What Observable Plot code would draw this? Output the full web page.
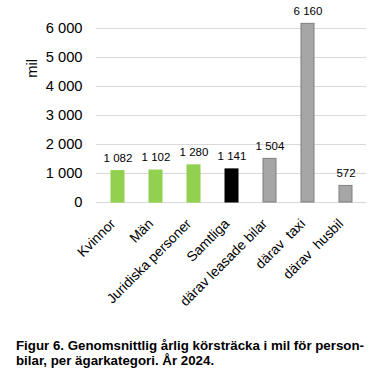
<!DOCTYPE html>
<html>
<head>
<meta charset="utf-8">
<script src="https://cdn.jsdelivr.net/npm/d3@7"></script>
<script src="https://cdn.jsdelivr.net/npm/@observablehq/plot@0.6"></script>
<style>
  body { margin: 0; background: #fff; font-family: "Liberation Sans", Arial, sans-serif; }
  #chart svg { display: block; }
  .caption { font-family: "Liberation Sans", Arial, sans-serif; font-weight: bold; font-size: 13.3px; line-height: 15px; color: #000; margin: 0 0 0 16px; width: 367px; white-space: nowrap; }
</style>
</head>
<body>
<div id="chart"></div>
<div class="caption">Figur 6. Genomsnittlig årlig körsträcka i mil för person-<br>bilar, per ägarkategori. År 2024.</div>
<script>
const categories = ["Kvinnor", "Män", "Juridiska personer", "Samtliga", "därav leasade bilar", "därav  taxi", "därav  husbil"];
const values = [1082, 1102, 1280, 1141, 1504, 6160, 572];
const groups = ["green", "green", "green", "black", "gray", "gray", "gray"];
const yTicks = [0, 1000, 2000, 3000, 4000, 5000, 6000];

const fmt = d3.formatLocale({decimal: ",", thousands: "\u00a0", grouping: [3], currency: ["", ""]}).format(",d");
const fills = {green: "#92d050", black: "#000000", gray: "#a6a6a6"};
const strokes = {green: "#92d050", black: "#000000", gray: "#7f7f7f"};
const data = categories.map((c, i) => ({cat: c, v: values[i], g: groups[i]}));

const chart = Plot.plot({
  width: 383,
  height: 338,
  marginLeft: 96,
  marginRight: 17,
  marginTop: 28,
  marginBottom: 136,
  style: {fontFamily: "Liberation Sans, Arial, sans-serif", background: "#fff", overflow: "visible"},
  x: {domain: categories, paddingInner: 0.66, paddingOuter: 0.33, label: null},
  y: {domain: [0, 6000], label: null},
  marks: [
    Plot.gridY(yTicks, {stroke: "#d9d9d9", strokeOpacity: 1, strokeWidth: 1.2}),
    Plot.axisY(yTicks, {tickSize: 0, tickPadding: 14, fontSize: 14.7, tickFormat: fmt, label: null, fill: "#000"}),
    Plot.axisX({tickSize: 0, tickPadding: 19, dx: -5, tickRotate: -45, fontSize: 13.8, label: null, fill: "#000"}),
    Plot.barY(data, {x: "cat", y: "v", fill: d => fills[d.g], stroke: d => strokes[d.g], strokeWidth: 1}),
    Plot.text(data, {x: "cat", y: "v", text: d => fmt(d.v), dy: -13, fontSize: 11.5, fill: "#000"}),
    Plot.text(["mil"], {y: () => 4300, frameAnchor: "left", dx: -64, rotate: -90, fontSize: 14.7, fill: "#000"})
  ]
});
document.getElementById("chart").append(chart);
</script>
</body>
</html>
